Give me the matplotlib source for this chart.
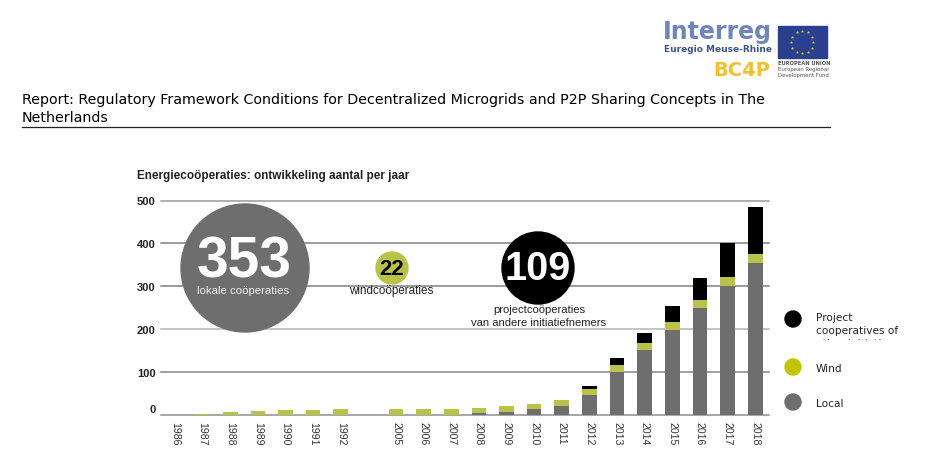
import numpy as np
import matplotlib
matplotlib.use('Agg')
import matplotlib.pyplot as plt
from matplotlib.patches import Circle, Rectangle
from matplotlib.transforms import ScaledTranslation

W, H = 934, 464

# data
years = [1986, 1987, 1988, 1989, 1990, 1991, 1992,
         2005, 2006, 2007, 2008, 2009, 2010, 2011, 2012, 2013, 2014, 2015, 2016, 2017, 2018]
local = [0, 0, 0, 0, 0, 0, 0, 0, 0, 0, 3, 6, 13, 21, 46, 99, 151, 198, 249, 300, 353]
wind = [0, 2, 5, 9, 11, 11, 13, 13, 13, 13, 12, 13, 12, 14, 14, 16, 15, 18, 18, 21, 22]
project = [0, 0, 0, 0, 0, 0, 0, 0, 0, 0, 0, 0, 0, 0, 6, 17, 25, 37, 52, 79, 109]
y_ticks = [0, 100, 200, 300, 400, 500]
grid_colors = ['#8f8f8f', '#858585', '#b5b5b5', '#808080', '#808080', '#9a9a9a']

GREY = '#6e6e6e'
GREEN = '#b9c34a'

plt.rcParams['font.family'] = ['Liberation Sans', 'DejaVu Sans']

fig = plt.figure(figsize=(W / 100, H / 100), dpi=100)
fig.patch.set_facecolor('white')

# chart axes, placed in pixels
left, right, top, bottom = 161, 769, 201.5, 415.5
ax = fig.add_axes([left / W, 1 - bottom / H, (right - left) / W, (bottom - top) / H])

# one empty slot between 1992 and 2005
x = np.array([i if y < 2000 else i + 1 for i, y in enumerate(years)])
local_a = np.array(local)
wind_a = np.array(wind)
project_a = np.array(project)

ax.bar(x, local_a, width=0.53, color=GREY, zorder=3)
ax.bar(x, wind_a, width=0.53, bottom=local_a, color=GREEN, zorder=3)
ax.bar(x, project_a, width=0.53, bottom=local_a + wind_a, color='black', zorder=3)

ax.set_xlim(-0.507, 21.5)
ax.set_ylim(0, 500)
for val, col in zip(y_ticks, grid_colors):
    ax.axhline(val, color=col, lw=1.1, zorder=1, clip_on=False)
for s in ax.spines.values():
    s.set_visible(False)
ax.patch.set_alpha(0)

ax.set_xticks(x)
ax.set_xticklabels(years, rotation=270, fontsize=7.6, color='#333333')
ax.tick_params(axis='x', length=0, pad=5)
ax.set_yticks(y_ticks)
ax.set_yticklabels(y_ticks, fontsize=8, fontweight='bold', color='#222222')
ax.tick_params(axis='y', length=0, pad=4)
# the 0 sits a little above its line
zero = ax.get_yticklabels()[0]
zero.set_transform(zero.get_transform() + ScaledTranslation(0, 6 / 100, fig.dpi_scale_trans))

# overlay in pixel coordinates for the page furniture
ov = fig.add_axes([0, 0, 1, 1])
ov.set_xlim(0, W)
ov.set_ylim(H, 0)
ov.axis('off')
ov.patch.set_alpha(0)

DV = 'DejaVu Sans'

# report header
ov.text(22, 100, 'Report: Regulatory Framework Conditions for Decentralized Microgrids and P2P Sharing Concepts in The',
        fontsize=10.3, family=DV, color='black', va='center')
ov.text(22, 118, 'Netherlands', fontsize=10.3, family=DV, color='black', va='center')
ov.plot([22, 830], [128, 128], color='#222222', lw=0.9)

# chart title
ov.text(137, 176, 'Energiecoöperaties: ontwikkeling aantal per jaar', fontsize=8.5,
        fontweight='bold', color='#222222', va='center')

# bubbles
ov.add_patch(Circle((245, 269), 64, color=GREY, zorder=4))
ov.text(244, 263, '353', color='white', fontsize=41, fontweight='bold', ha='center', va='center', zorder=5)
ov.text(243.5, 291, 'lokale coöperaties', color='#eeeeee', fontsize=8.2, ha='center', va='center', zorder=5)

ov.add_patch(Circle((392, 269), 16, color=GREEN, zorder=4))
ov.text(392, 269.5, '22', color='black', fontsize=16, fontweight='bold', ha='center', va='center', zorder=5)
ov.text(391.5, 291, 'windcoöperaties', color='#222222', fontsize=8.4, ha='center', va='center', zorder=5)

ov.add_patch(Circle((538, 269), 36, color='black', zorder=4))
ov.text(538, 269.5, '109', color='white', fontsize=28.5, fontweight='bold', ha='center', va='center', zorder=5)
ov.text(539, 310, 'projectcoöperaties', color='#222222', fontsize=8.1, ha='center', va='center', zorder=5)
ov.text(539, 323, 'van andere initiatiefnemers', color='#222222', fontsize=8.1, ha='center', va='center', zorder=5)

# legend, third line of the first entry is cut off in the page
ov.add_patch(Circle((793, 320), 8, color='black'))
ov.add_patch(Circle((793, 368), 8, color='#c1c400'))
ov.add_patch(Circle((793, 403), 8, color=GREY))
ov.text(816, 318, 'Project', fontsize=7.6, family=DV, color='#222222', va='center')
ov.text(816, 331, 'cooperatives of', fontsize=7.6, family=DV, color='#222222', va='center')
cut = ov.text(816, 344, 'other initiatives', fontsize=7.6, family=DV, color='#222222', va='center')
cut.set_clip_path(Rectangle((810, 330), 110, 11, transform=ov.transData))
cut.set_clip_on(True)
ov.text(816, 369, 'Wind', fontsize=7.6, family=DV, color='#222222', va='center')
ov.text(816, 404, 'Local', fontsize=7.6, family=DV, color='#222222', va='center')

# logo
ov.text(663, 32, 'Interreg', fontsize=17, fontweight='bold', color='#6f86b8', family=DV, va='center')
ov.text(664, 50, 'Euregio Meuse-Rhine', fontsize=6.45, fontweight='bold', color='#3d5488', family=DV, va='center')
ov.text(713, 70, 'BC4P', fontsize=14, fontweight='bold', color='#f0c030', family=DV, va='center')
ov.add_patch(Rectangle((778, 27), 49, 32, color='#2a3f8f'))
for a in np.deg2rad(np.arange(0, 360, 30)):
    ov.plot(802 + 11 * np.cos(a), 43 + 11 * np.sin(a), marker='*', ms=2.5, color='#f5d020', mew=0)
ov.text(778, 63.5, 'EUROPEAN UNION', fontsize=3.7, fontweight='bold', color='#555555', family=DV, va='center')
ov.text(778, 70, 'European Regional', fontsize=3.9, color='#555555', family=DV, va='center')
ov.text(778, 76, 'Development Fund', fontsize=3.9, color='#555555', family=DV, va='center')

fig.savefig('out.png', dpi=100)
